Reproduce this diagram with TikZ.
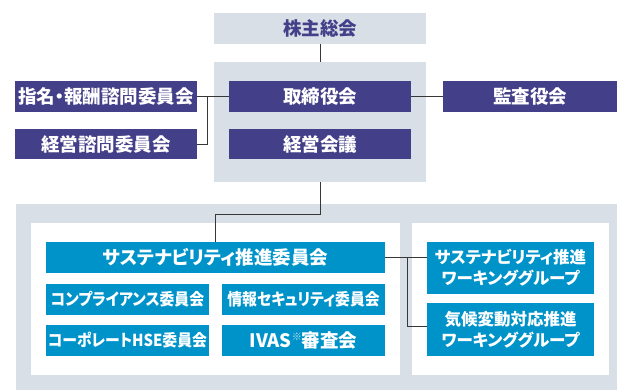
\documentclass[tikz,border=0pt]{standalone}
\usepackage{fontspec}
\setmainfont{Noto Sans CJK JP}[RawFeature=+palt]
\newfontfamily\narrowjp{Noto Sans CJK JP}[RawFeature=+palt, FakeStretch=0.9]
\usepackage{xcolor}
\usepackage{tikz}
\usetikzlibrary{positioning, calc}
\definecolor{boardpurple}{RGB}{67,63,136}
\definecolor{committeeblue}{RGB}{0,147,202}
\definecolor{panelgray}{RGB}{216,223,230}
\definecolor{linegray}{RGB}{55,55,55}
\tikzset{
  panel/.style={
    fill=panelgray,
    inner sep=0pt,
    outer sep=0pt
  },
  whitepanel/.style={
    fill=white,
    inner sep=0pt,
    outer sep=0pt
  },
  board/.style={
    fill=boardpurple,
    text=white,
    inner sep=0pt,
    outer sep=0pt,
    minimum width=182pt,
    minimum height=31pt,
    font=\fontsize{18.5}{22}\selectfont\bfseries
  },
  committee/.style={
    fill=committeeblue,
    text=white,
    inner sep=0pt,
    outer sep=0pt,
    align=center,
    minimum width=163pt,
    minimum height=31pt,
    font=\narrowjp\fontsize{16.5}{19}\selectfont\bfseries
  },
  link/.style={draw=linegray, line width=0.9pt}
}

\begin{document}
\begin{tikzpicture}[x=1pt, y=1pt]
\useasboundingbox (0,0) rectangle (617,-390);

\node[panel, minimum width=212pt, minimum height=31pt, text=boardpurple,
  font=\fontsize{18.5}{22}\selectfont\bfseries] (agm) at (320,-28.5) {株主総会};

\node[panel, minimum width=212pt, minimum height=120pt] (boardarea) at (320,-122) {};

\node[board] (board) at (320,-96.5) {取締役会};
\node[board, below=17pt of board, minimum height=30pt] (mgmt) {経営会議};
\node[board, left=32pt of board] (nomination) {指名・報酬諮問委員会};
\node[board, below=17pt of nomination, minimum height=30pt] (advisory) {経営諮問委員会};
\node[board, right=32pt of board, minimum width=174pt] (audit) {監査役会};

\node[panel, minimum width=601pt, minimum height=186pt] (lowerarea) at (316.5,-297) {};
\node[whitepanel, minimum width=369pt, minimum height=152pt] (leftpanel) at (215.5,-298.8) {};
\node[whitepanel, minimum width=197pt, minimum height=152pt] (rightpanel) at (510.5,-298.8) {};

\node[committee, minimum width=339pt, font=\fontsize{18.5}{22}\selectfont\bfseries] (sust) at (215.5,-257.5)
{サステナビリティ推進委員会};
\node[committee, below right=11pt and 0pt of sust.south west] (compliance) {コンプライアンス委員会};
\node[committee, right=13pt of compliance] (infosec) {情報セキュリティ委員会};
\node[committee, below=10pt of compliance] (hse) {コーポレートHSE委員会};
\node[committee, right=13pt of hse, font=\fontsize{18.5}{22}\selectfont\bfseries] (ivas)
{IVAS\raisebox{0.4em}{\color{white!75!committeeblue}\fontsize{10}{11}\selectfont ※}審査会};

\node[committee, minimum width=167pt, minimum height=52pt, font=\fontsize{16.5}{21}\selectfont\bfseries] (wgsust) at (510.5,-268)
{サステナビリティ推進\\ワーキンググループ};
\node[committee, below=9pt of wgsust, minimum width=167pt, minimum height=53pt, font=\fontsize{16.5}{21}\selectfont\bfseries] (wgclimate)
{気候変動対応推進\\ワーキンググループ};

\coordinate (nomjoint) at ([xshift=10pt]nomination.east);
\coordinate (wgjoint) at ([xshift=22pt]sust.east);

\draw[link] (agm) -- (boardarea);
\draw[link] (nomination) -- (board);
\draw[link] (advisory.east) -| (nomjoint);
\draw[link] (board) -- (audit);
\draw[link] (boardarea.south) -- ++(0,-32) -| (sust.north);
\draw[link] (sust.east) -- (sust.east -| wgsust.west);
\draw[link] (wgjoint) |- ([yshift=3pt]wgclimate.west);
\end{tikzpicture}
\end{document}
